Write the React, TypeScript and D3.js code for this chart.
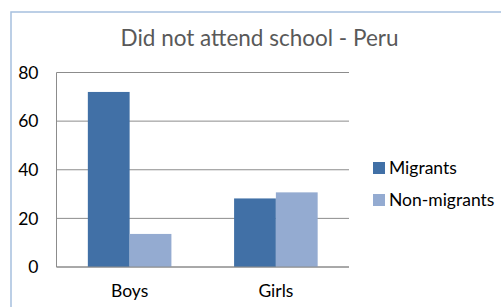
import React, { useEffect, useRef } from 'react';
import * as d3 from 'd3';

const categories = ['Boys', 'Girls'];
const seriesNames = ['Migrants', 'Non-migrants'];
const migrants = [72, 28.2];
const nonMigrants = [13.6, 30.7];
const yTicks = [0, 20, 40, 60, 80];

const COLORS = ['#4170a6', '#94abd1'];
const FONT = 'Lato, "Open Sans", sans-serif';

const App = () => {
  const svgRef = useRef<SVGSVGElement>(null);

  useEffect(() => {
    const svg = d3.select(svgRef.current);
    svg.selectAll('*').remove();

    const width = 501;
    const height = 307;
    const plot = { left: 56.5, right: 349, top: 72.5, bottom: 267 };

    // marco del gráfico
    svg.append('rect')
      .attr('x', 11).attr('y', 12)
      .attr('width', width + 20).attr('height', height + 20)
      .attr('fill', '#fff')
      .attr('stroke', '#a7c0de')
      .attr('stroke-width', 1.5);

    svg.append('text')
      .attr('x', 259.5).attr('y', 46)
      .attr('text-anchor', 'middle')
      .attr('font-family', FONT)
      .attr('font-size', 22.5)
      .attr('fill', '#595959')
      .text('Did not attend school - Peru');

    const x0 = d3.scaleBand()
      .domain(categories)
      .range([plot.left, plot.right]);

    const x1 = d3.scaleBand()
      .domain(seriesNames)
      .range([0, x0.bandwidth()])
      .paddingOuter(0.75)
      .paddingInner(0);

    const y = d3.scaleLinear()
      .domain([0, 80])
      .range([plot.bottom, plot.top]);

    // líneas de cuadrícula
    svg.append('g')
      .selectAll('line')
      .data(yTicks)
      .enter()
      .append('line')
      .attr('x1', plot.left).attr('x2', plot.right)
      .attr('y1', d => y(d)).attr('y2', d => y(d))
      .attr('stroke', '#8c8c8c')
      .attr('stroke-width', 1);

    svg.append('line')
      .attr('x1', plot.left).attr('x2', plot.left)
      .attr('y1', plot.top).attr('y2', plot.bottom)
      .attr('stroke', '#8c8c8c');

    svg.append('g')
      .selectAll('text')
      .data(yTicks)
      .enter()
      .append('text')
      .attr('x', 38.5)
      .attr('y', d => y(d))
      .attr('dy', '0.36em')
      .attr('text-anchor', 'end')
      .attr('font-family', FONT)
      .attr('font-size', 17.5)
      .attr('fill', '#000')
      .text(d => d);

    const rows = categories.map((c, i) => ({ cat: c, values: [migrants[i], nonMigrants[i]] }));

    const groups = svg.append('g')
      .selectAll('g')
      .data(rows)
      .enter()
      .append('g')
      .attr('transform', d => `translate(${x0(d.cat)},0)`);

    groups.selectAll('rect')
      .data(d => d.values.map((v, i) => ({ name: seriesNames[i], value: v, i })))
      .enter()
      .append('rect')
      .attr('x', d => x1(d.name)!)
      .attr('width', x1.bandwidth())
      .attr('y', d => y(d.value))
      .attr('height', d => plot.bottom - y(d.value))
      .attr('fill', d => COLORS[d.i]);

    // eje horizontal por encima de las barras
    svg.append('line')
      .attr('x1', plot.left).attr('x2', plot.right)
      .attr('y1', plot.bottom).attr('y2', plot.bottom)
      .attr('stroke', '#8c8c8c');

    svg.append('g')
      .selectAll('text')
      .data(categories)
      .enter()
      .append('text')
      .attr('x', d => x0(d)! + x0.bandwidth() / 2)
      .attr('y', 296.5)
      .attr('text-anchor', 'middle')
      .attr('font-family', FONT)
      .attr('font-size', 17.5)
      .attr('fill', '#000')
      .text(d => d);

    // leyenda
    const legend = svg.append('g')
      .selectAll('g')
      .data(seriesNames)
      .enter()
      .append('g')
      .attr('transform', (d, i) => `translate(373,${162 + i * 32})`);

    legend.append('rect')
      .attr('width', 12).attr('height', 12)
      .attr('fill', (d, i) => COLORS[i]);

    legend.append('text')
      .attr('x', 16).attr('y', 12)
      .attr('font-family', FONT)
      .attr('font-size', 17.5)
      .attr('fill', '#000')
      .text(d => d);
  }, []);

  return (
    <svg
      ref={svgRef}
      width={501}
      height={307}
      style={{ position: 'absolute', left: 0, top: 0, background: '#fff' }}
    />
  );
};

export default App;
